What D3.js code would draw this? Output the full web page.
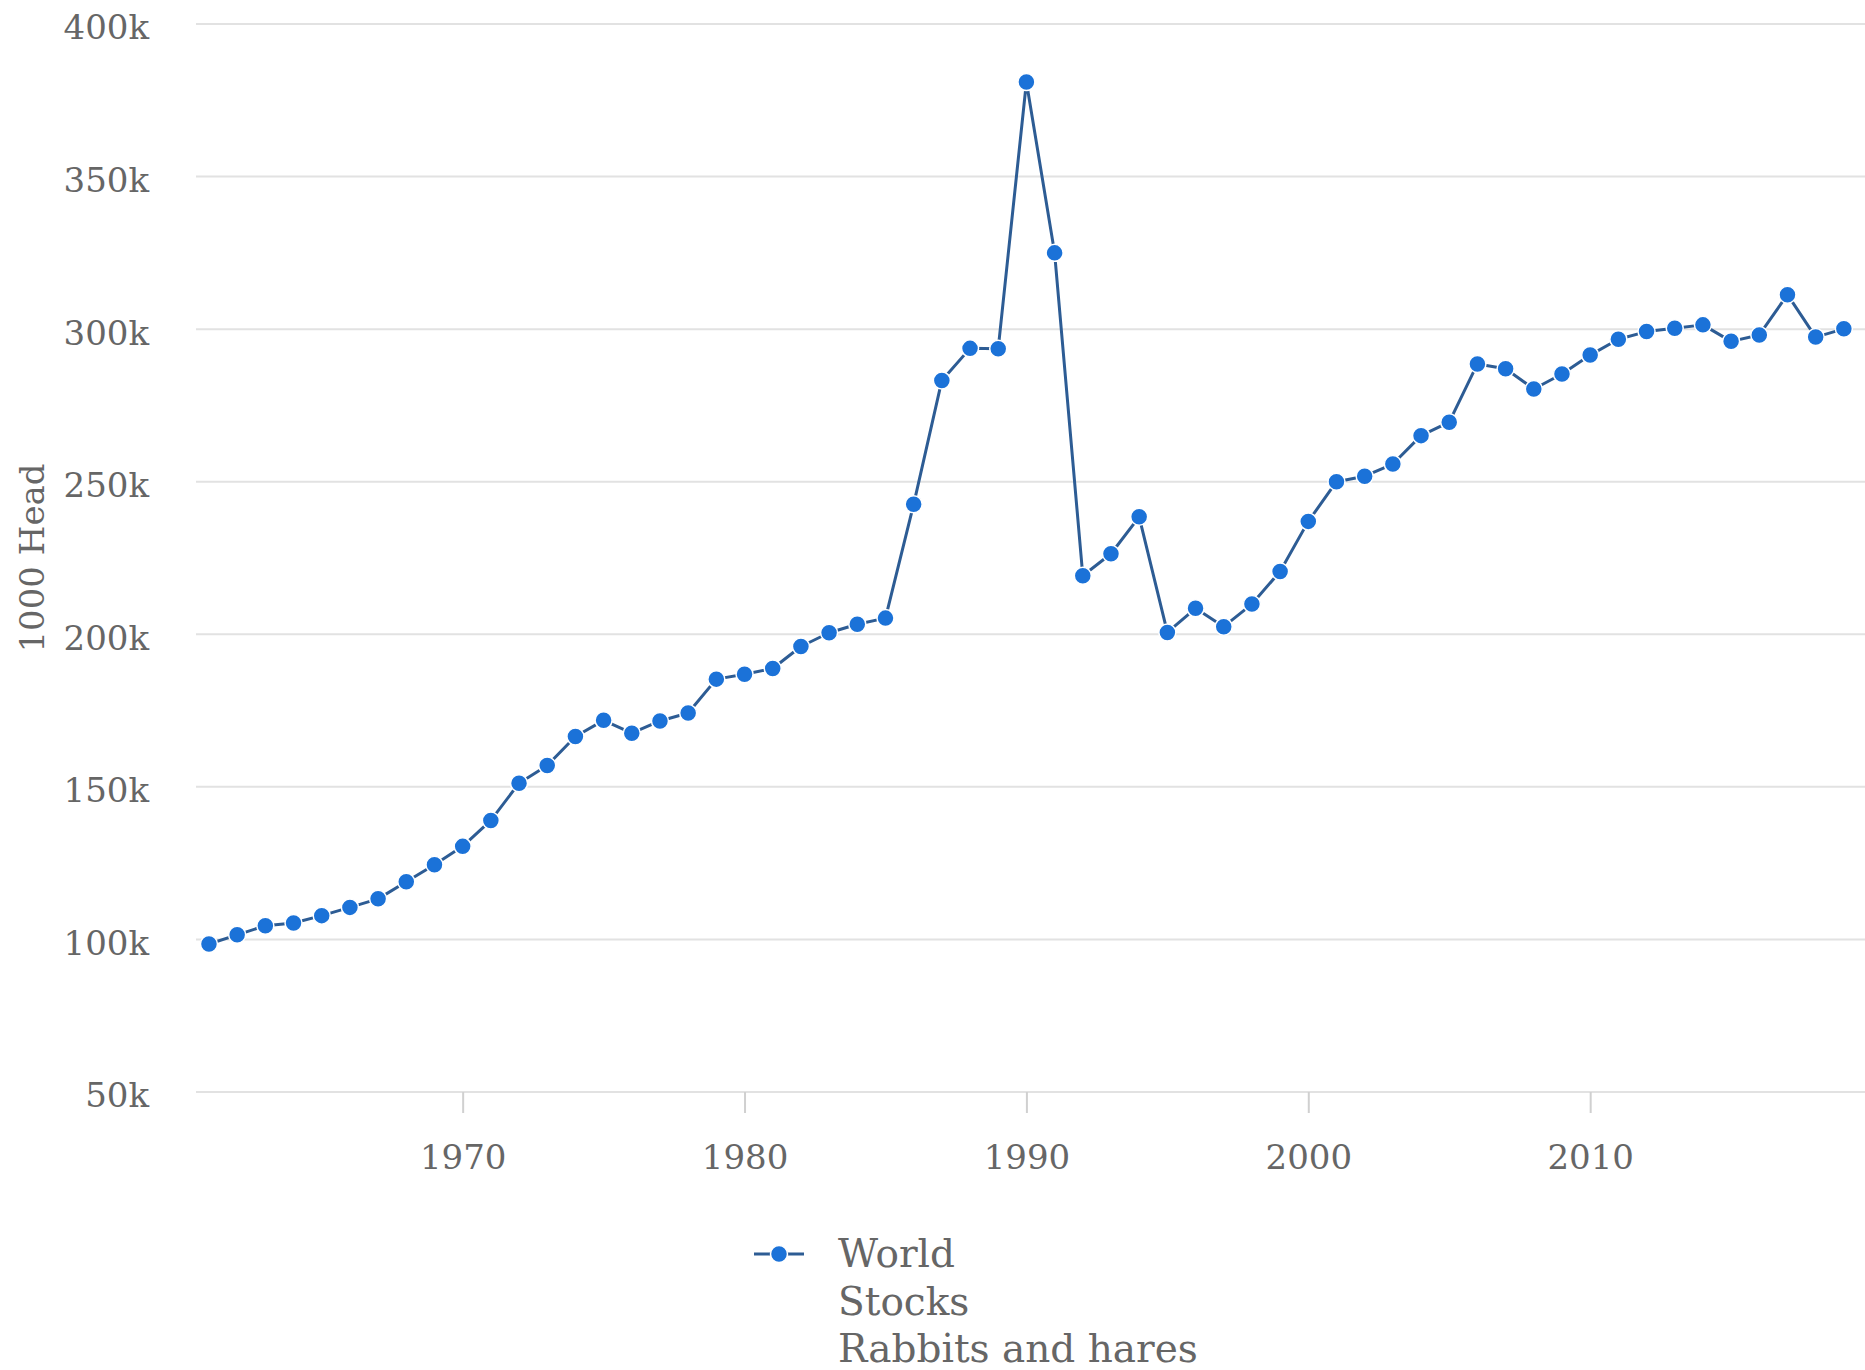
<!DOCTYPE html>
<html>
<head>
<meta charset="utf-8">
<script src="https://cdn.jsdelivr.net/npm/d3@7"></script>
<style>
  html, body { margin: 0; padding: 0; background: #ffffff; }
  svg { display: block; }
  text { font-family: "DejaVu Serif", serif; fill: #666666; }
</style>
</head>
<body>
<svg id="chart" width="1865" height="1370"></svg>
<script>
// ---- data ----
const years = [1961,1962,1963,1964,1965,1966,1967,1968,1969,1970,
               1971,1972,1973,1974,1975,1976,1977,1978,1979,1980,
               1981,1982,1983,1984,1985,1986,1987,1988,1989,1990,
               1991,1992,1993,1994,1995,1996,1997,1998,1999,2000,
               2001,2002,2003,2004,2005,2006,2007,2008,2009,2010,
               2011,2012,2013,2014,2015,2016,2017,2018,2019];
const stocks = [98.5,101.5,104.5,105.4,107.8,110.5,113.3,118.9,124.5,130.5,
                139.0,151.2,157.0,166.5,171.8,167.6,171.6,174.2,185.3,186.9,
                188.8,196.0,200.5,203.3,205.3,242.6,283.2,293.7,293.6,381.0,
                325.0,219.2,226.4,238.5,200.6,208.5,202.5,209.9,220.6,237.0,
                250.0,251.8,255.8,265.1,269.5,288.6,287.0,280.4,285.3,291.5,
                296.7,299.2,300.3,301.4,296.0,298.1,311.3,297.4,300.1].map(v => v * 1000);
const yTicks = [50000,100000,150000,200000,250000,300000,350000,400000];
const xTicks = [1970,1980,1990,2000,2010];
const yTitle = "1000 Head";
const legendLines = ["World", "Stocks", "Rabbits and hares"];

// ---- layout ----
const svg = d3.select("#chart");
const x = d3.scaleLinear().domain([1960.54, 2019.75]).range([196, 1865]);
const y = d3.scaleLinear().domain([50000, 400000]).range([1092, 24]);
const lineColor = "#2d5c94";
const markerColor = "#1b72d8";
const fmt = d => (d / 1000) + "k";

// gridlines
svg.append("g").selectAll("line").data(yTicks).join("line")
  .attr("x1", 196).attr("x2", 1865)
  .attr("y1", d => y(d)).attr("y2", d => y(d))
  .attr("stroke", "#e2e2e2").attr("stroke-width", 2);

// y axis labels
const yAxis = d3.axisLeft(y).tickValues(yTicks).tickFormat(fmt).tickSize(0).tickPadding(0);
const gy = svg.append("g").attr("transform", "translate(149,4)").call(yAxis);
gy.select(".domain").remove();
gy.selectAll("text").style("font-size", "34px").attr("fill", "#666666")
  .style("font-family", "'DejaVu Serif', serif");

// x axis
const xAxis = d3.axisBottom(x).tickValues(xTicks).tickFormat(d3.format("d")).tickSize(21).tickPadding(32);
const gx = svg.append("g").attr("transform", "translate(0,1092)").call(xAxis);
gx.select(".domain").remove();
gx.selectAll(".tick line").attr("stroke", "#d0d0d0").attr("stroke-width", 2);
gx.selectAll("text").style("font-size", "34px").attr("fill", "#666666")
  .style("font-family", "'DejaVu Serif', serif");

// y title
svg.append("text")
  .attr("transform", "translate(44,558) rotate(-90)")
  .attr("text-anchor", "middle")
  .style("font-size", "34px")
  .text(yTitle);

// line
const pts = years.map((yr, i) => [yr, stocks[i]]);
svg.append("path")
  .datum(pts)
  .attr("fill", "none")
  .attr("stroke", lineColor)
  .attr("stroke-width", 3)
  .attr("stroke-linejoin", "round")
  .attr("d", d3.line().x(d => x(d[0])).y(d => y(d[1])));

// markers
svg.append("g").selectAll("circle").data(pts).join("circle")
  .attr("cx", d => x(d[0])).attr("cy", d => y(d[1]))
  .attr("r", 8.5)
  .attr("fill", markerColor)
  .attr("stroke", "#ffffff").attr("stroke-width", 1.5);

// legend
const lg = svg.append("g");
lg.append("line").attr("x1", 754).attr("x2", 804).attr("y1", 1254).attr("y2", 1254)
  .attr("stroke", lineColor).attr("stroke-width", 3);
lg.append("circle").attr("cx", 779).attr("cy", 1254).attr("r", 8.5)
  .attr("fill", markerColor).attr("stroke", "#ffffff").attr("stroke-width", 1.5);
lg.selectAll("text").data(legendLines).join("text")
  .attr("x", 838).attr("y", (d, i) => 1267 + i * 47.5)
  .style("font-size", "39px")
  .text(d => d);
</script>
</body>
</html>
